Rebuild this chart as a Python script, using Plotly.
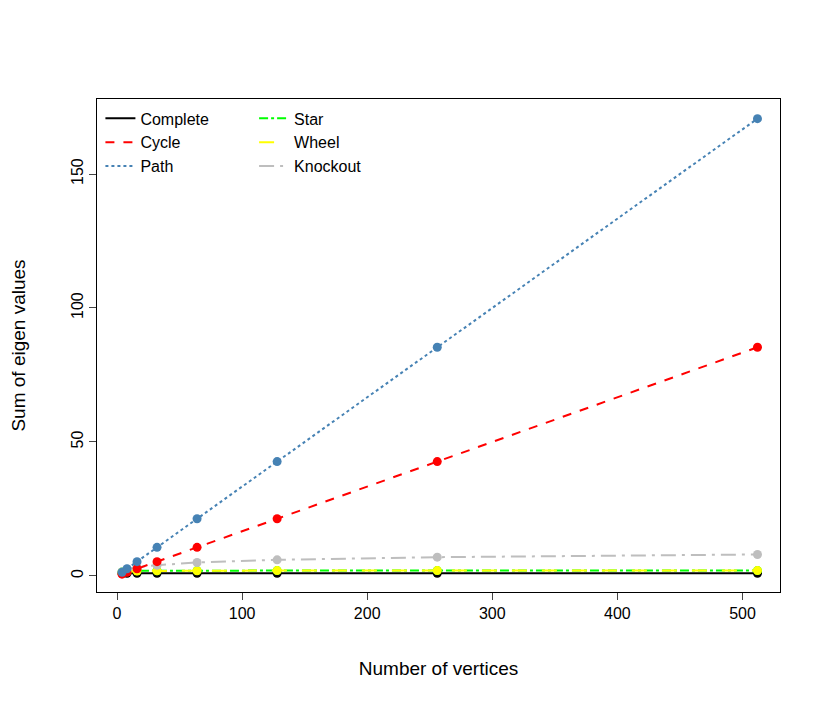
import plotly.graph_objects as go

n = [4, 8, 16, 32, 64, 128, 256, 512]
complete = [1, 1, 1, 1, 1, 1, 1, 1]
cycle = [0.67, 1.33, 2.67, 5.33, 10.67, 21.33, 42.67, 85.33]
path = [1.33, 2.67, 5.33, 10.67, 21.33, 42.67, 85.33, 170.67]
star = [1.5, 1.75, 1.9, 1.95, 2, 2, 2, 2]
wheel = [1.2, 1.6, 1.8, 1.9, 1.95, 2, 2, 2]
knockout = [1.5, 2.5, 3.3, 4, 5, 6, 7, 8]

series = [
    ("Complete", complete, "black", "solid", "legend"),
    ("Cycle", cycle, "red", "dash", "legend"),
    ("Path", path, "steelblue", "dot", "legend"),
    ("Star", star, "#00ff00", "dashdot", "legend2"),
    ("Wheel", wheel, "yellow", "longdash", "legend2"),
    ("Knockout", knockout, "#bebebe", "longdashdot", "legend2"),
]
fig = go.Figure()
# data traces, drawn in R order
for name, y, col, dash, leg in [series[0], series[3], series[4], series[5], series[1], series[2]]:
    fig.add_trace(go.Scatter(
        x=n, y=y, name=name, mode="lines+markers", showlegend=False,
        line=dict(color=col, dash=dash, width=2),
        marker=dict(color=col, size=9),
    ))
# legend-only entries (lines without markers, like R's legend)
for name, y, col, dash, leg in series:
    fig.add_trace(go.Scatter(
        x=[None], y=[None], name=name, mode="lines", legend=leg,
        line=dict(color=col, dash=dash, width=2),
    ))

legend_style = dict(bgcolor="rgba(0,0,0,0)", font=dict(size=16, color="black"),
                    yanchor="top", xanchor="left", traceorder="normal", tracegroupgap=0)
fig.update_layout(
    width=830, height=712,
    paper_bgcolor="white", plot_bgcolor="white",
    font=dict(family="Liberation Sans, Arial", size=16, color="black"),
    margin=dict(l=89, r=58, t=91, b=128),
    legend=dict(x=0.005, y=0.995, **legend_style),
    legend2=dict(x=0.23, y=0.995, **legend_style),
    xaxis=dict(range=[-16, 530], tickvals=[0, 100, 200, 300, 400, 500],
               showgrid=False, zeroline=False, showline=True, mirror=True,
               linecolor="black", ticks="outside", ticklen=7, automargin=False,
               title=dict(text="Number of vertices", standoff=40)),
    yaxis=dict(range=[-6, 178], tickvals=[0, 50, 100, 150], tickangle=-90,
               showgrid=False, zeroline=False, showline=True, mirror=True,
               linecolor="black", ticks="outside", ticklen=7, automargin=False,
               title=dict(text="Sum of eigen values", standoff=45)),
)
fig.write_html("out.html")
